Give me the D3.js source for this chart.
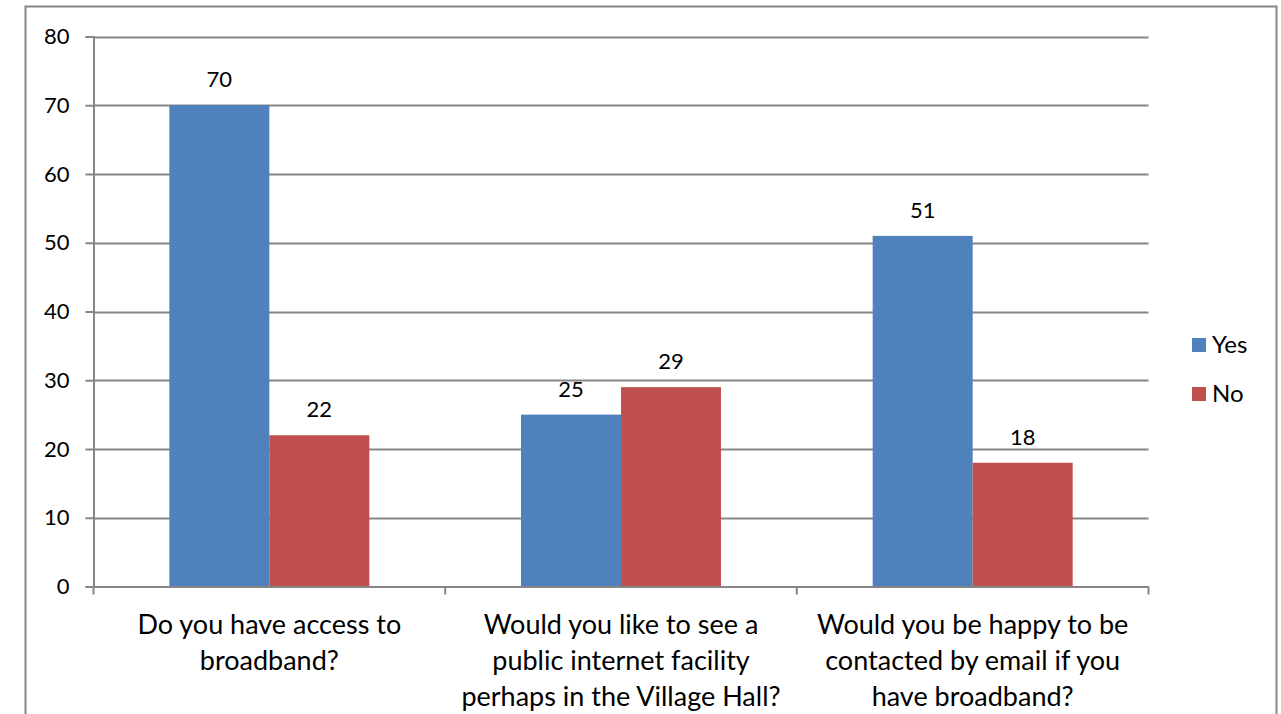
<!DOCTYPE html>
<html><head><meta charset="utf-8">
<script src="https://cdn.jsdelivr.net/npm/d3@7"></script>
<style>body{margin:0;background:#fff}svg{display:block}text{font-family:Lato,"Open Sans",sans-serif;fill:#000}</style>
</head><body>
<script>
const categories = [
  ["Do you have access to", "broadband?"],
  ["Would you like to see a", "public internet facility", "perhaps in the Village Hall?"],
  ["Would you be happy to be", "contacted by email if you", "have broadband?"]
];
const seriesNames = ["Yes", "No"];
const yesValues = [70, 25, 51];
const noValues = [22, 29, 18];
const yTicks = [0, 10, 20, 30, 40, 50, 60, 70, 80];
const colors = ["#4f81bd", "#c0504d"];

(function () {
const W = 1281, H = 714;
const svg = d3.select("body").append("svg").attr("width", W).attr("height", H);
svg.append("rect").attr("x", 25.5).attr("y", 6.5).attr("width", 1251).attr("height", 720)
  .attr("fill", "#fff").attr("stroke", "#868686").attr("stroke-width", 2);

const pl = 93.5, pr = 1148.5, pt = 36.5, pb = 586.5;
const y = d3.scaleLinear().domain([0, 80]).range([pb, pt]);
const x = d3.scaleBand().domain(d3.range(categories.length)).range([pl, pr]).paddingInner(0).paddingOuter(0);
const bw = 100;

svg.append("g").selectAll("line").data(yTicks.filter(d => d > 0)).join("line")
  .attr("x1", pl).attr("x2", pr).attr("y1", d => Math.round(y(d)) + 0.5).attr("y2", d => Math.round(y(d)) + 0.5)
  .attr("stroke", "#868686").attr("stroke-width", 2);

const yAxis = d3.axisLeft(y).tickValues(yTicks).tickSize(8).tickPadding(16);
const gy = svg.append("g").attr("transform", `translate(${pl},0)`).call(yAxis);
gy.select(".domain").attr("stroke", "#868686").attr("stroke-width", 2);
gy.selectAll(".tick line").attr("stroke", "#868686").attr("stroke-width", 2);
gy.selectAll(".tick text").attr("font-size", 22).attr("font-family", "Lato").attr("fill", "#000");

const data = categories.map((c, i) => [yesValues[i], noValues[i]]);
const g = svg.append("g");
data.forEach((vals, i) => {
  const cx = x(i) + x.bandwidth() / 2;
  vals.forEach((v, s) => {
    const x0 = cx - bw + s * bw;
    g.append("rect").attr("x", x0).attr("y", y(v)).attr("width", bw).attr("height", y(0) - y(v)).attr("fill", colors[s]);
    g.append("text").attr("x", x0 + bw / 2).attr("y", y(v) - 18).attr("text-anchor", "middle")
      .attr("font-size", 22).text(v);
  });
});

const xAxis = d3.axisBottom(x).tickValues([]).tickSizeOuter(0);
const gx = svg.append("g").attr("transform", `translate(0,${pb})`).call(xAxis);
gx.select(".domain").attr("stroke", "#868686").attr("stroke-width", 2);
const bounds = [pl].concat(categories.map((c, i) => x(i) + x.bandwidth()));
gx.selectAll("line.b").data(bounds).join("line").attr("class", "b")
  .attr("x1", d => d).attr("x2", d => d).attr("y1", 0).attr("y2", 8)
  .attr("stroke", "#868686").attr("stroke-width", 2);

categories.forEach((lines, i) => {
  const t = svg.append("text").attr("x", x(i) + x.bandwidth() / 2).attr("y", 634)
    .attr("text-anchor", "middle").attr("font-size", 27);
  lines.forEach((l, k) => t.append("tspan").attr("x", x(i) + x.bandwidth() / 2).attr("dy", k ? 36 : 0).text(l));
});

const lg = svg.append("g");
seriesNames.forEach((n, s) => {
  lg.append("rect").attr("x", 1192).attr("y", 338 + s * 49).attr("width", 14).attr("height", 14).attr("fill", colors[s]);
  lg.append("text").attr("x", 1212).attr("y", 353 + s * 49).attr("font-size", 24).text(n);
});
})();
</script>
</body></html>
